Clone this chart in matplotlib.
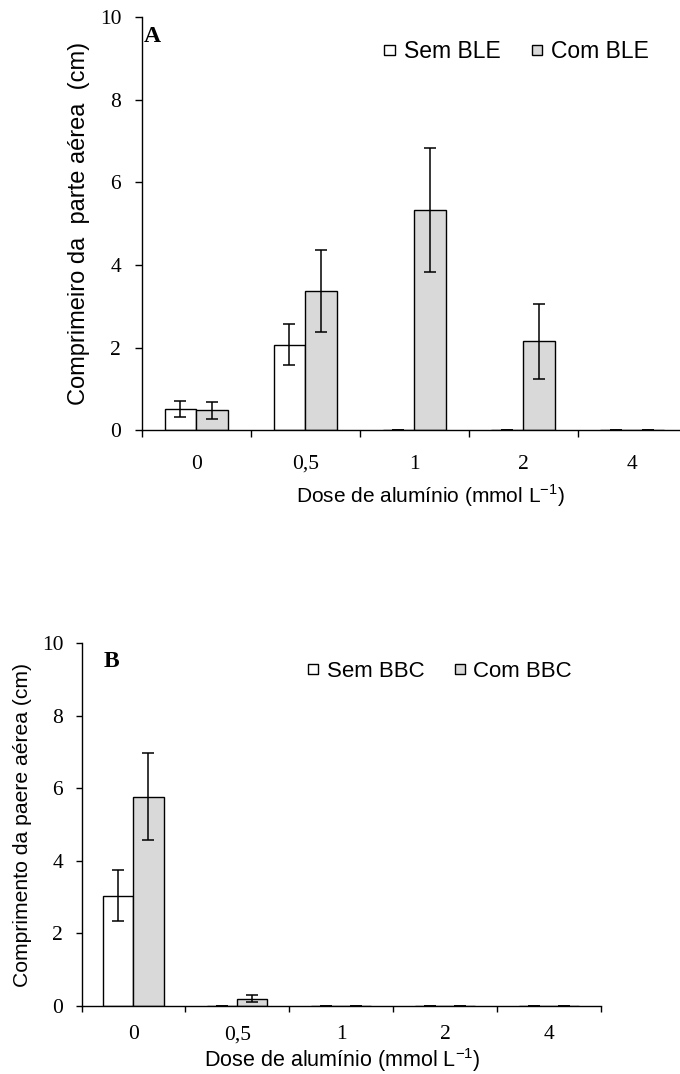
import numpy as np
import matplotlib
matplotlib.use("Agg")
import matplotlib.pyplot as plt

doses = ['0', '0,5', '1', '2', '4']

# painel A
sem_ble = [0.52, 2.07, 0, 0, 0]
sem_ble_err = [0.20, 0.50, 0, 0, 0]
com_ble = [0.48, 3.37, 5.34, 2.15, 0]
com_ble_err = [0.20, 1.00, 1.50, 0.90, 0]

# painel B
sem_bbc = [3.04, 0, 0, 0, 0]
sem_bbc_err = [0.70, 0, 0, 0, 0]
com_bbc = [5.76, 0.20, 0, 0, 0]
com_bbc_err = [1.20, 0.10, 0, 0, 0]

SERIF = 'Liberation Serif'
SANS = 'Liberation Sans'
GREY = '#d9d9d9'

plt.rcParams['mathtext.fontset'] = 'custom'
plt.rcParams['mathtext.rm'] = SANS


def painel(ax, sem, sem_err, com, com_err, nomes, ylabel, letra, ylab_x, xlab_xy,
           leg_xy, leg_fs, lab_fs, ylab_fs, letra_xy, xpad, ypad, ylen):
    x = np.arange(len(doses))
    w = 0.29
    ax.bar(x - w / 2, sem, w, color='white', edgecolor='black', lw=1, label=nomes[0])
    ax.bar(x + w / 2, com, w, color=GREY, edgecolor='black', lw=1, label=nomes[1])
    ax.errorbar(x - w / 2, sem, yerr=sem_err, fmt='none', ecolor='black', elinewidth=1.1, capsize=4, capthick=1.1)
    ax.errorbar(x + w / 2, com, yerr=com_err, fmt='none', ecolor='black', elinewidth=1.1, capsize=4, capthick=1.1)

    ax.set_xlim(-0.5, len(doses) - 0.5)
    ax.set_ylim(0, 10)
    ax.set_yticks(np.arange(0, 11, 2))
    ax.set_xticks(np.arange(-0.5, len(doses), 1))
    ax.set_xticklabels([])
    ax.set_xticks(x, minor=True)
    ax.set_xticklabels(doses, minor=True)
    ax.tick_params(axis='x', which='major', direction='out', length=ylen, width=1)
    ax.tick_params(axis='x', which='minor', length=0, pad=xpad)
    ax.tick_params(axis='y', direction='out', length=ylen, width=1, pad=ypad)
    for t in ax.get_xticklabels(minor=True) + ax.get_yticklabels():
        t.set_fontfamily(SERIF)
        t.set_fontsize(15.5)
    for s in ['top', 'right']:
        ax.spines[s].set_visible(False)
    for s in ['left', 'bottom']:
        ax.spines[s].set_linewidth(1)

    ax.set_ylabel(ylabel, fontfamily=SANS, fontsize=ylab_fs, va='center')
    ax.yaxis.set_label_coords(ylab_x, 0.5)
    ax.set_xlabel('Dose de alumínio (mmol L$^{\\mathregular{-1}}$)', fontfamily=SANS,
                  fontsize=lab_fs, va='baseline')
    ax.xaxis.set_label_coords(*xlab_xy)

    ax.text(letra_xy[0], letra_xy[1], letra, transform=ax.transAxes, fontfamily=SERIF,
            fontweight='bold', fontsize=17, ha='center', va='center')

    # quadradinhos da legenda
    ax.legend(loc='center right', bbox_to_anchor=leg_xy, ncol=2, frameon=False,
              handlelength=0.45, handleheight=0.315, handletextpad=0.4, columnspacing=1.35,
              borderpad=0, borderaxespad=0, prop={'family': SANS, 'size': leg_fs})


fig = plt.figure(figsize=(6.8, 10.74), dpi=100)
axA = fig.add_axes([0.2085, 0.5994, 0.801, 0.3845])
axB = fig.add_axes([0.1199, 0.0633, 0.7634, 0.338])

painel(axA, sem_ble, sem_ble_err, com_ble, com_ble_err, ['Sem BLE', 'Com BLE'],
       'Comprimeiro da  parte aérea  (cm)', 'A', -0.1157, (0.529, -0.1768),
       (0.931, 0.917), 16.5, 15, 17, (0.0196, 0.953), 17.5, 10, 4.8)
painel(axB, sem_bbc, sem_bbc_err, com_bbc, com_bbc_err, ['Sem BBC', 'Com BBC'],
       'Comprimento da paere aérea (cm)', 'B', -0.1137, (0.503, -0.168),
       (0.945, 0.922), 16, 15.5, 15.2, (0.0568, 0.948), 14, 9, 4.2)

fig.savefig('out.png', dpi=100)
